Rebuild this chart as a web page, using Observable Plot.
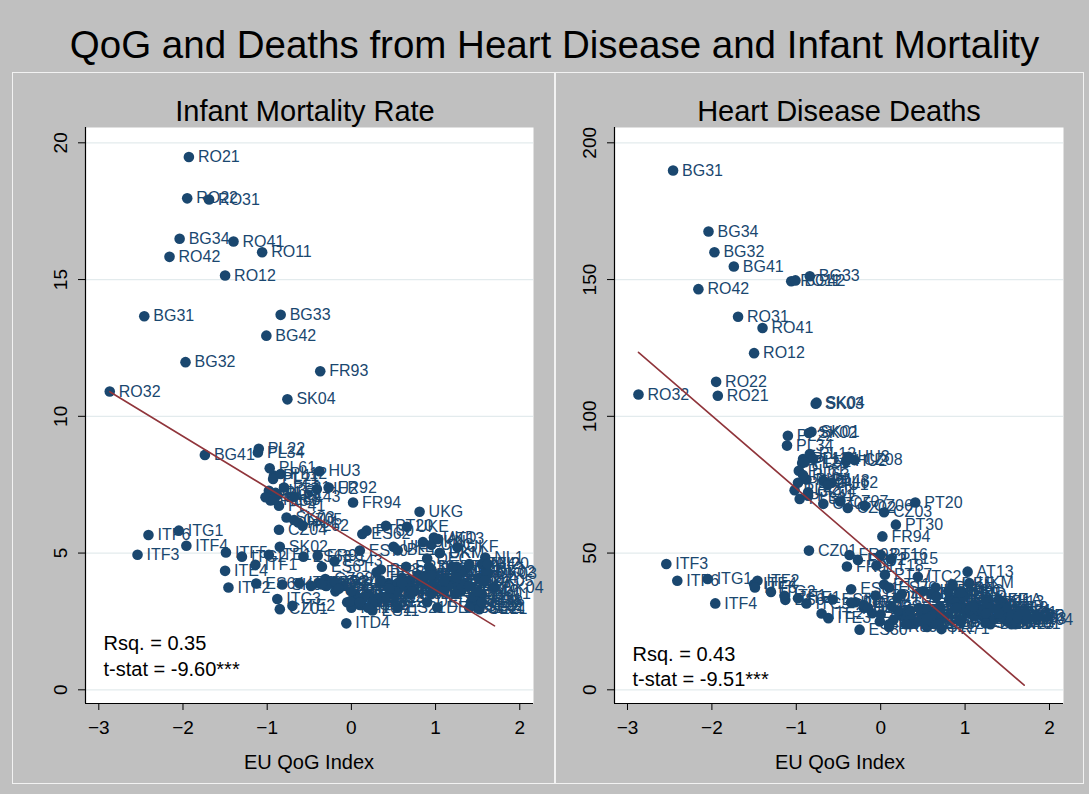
<!DOCTYPE html>
<html><head><meta charset="utf-8">
<script src="https://cdn.jsdelivr.net/npm/d3@7"></script>
<script src="https://cdn.jsdelivr.net/npm/@observablehq/plot@0.6"></script>
<style>
body{margin:0;background:#fff;}
#fig{position:relative;width:1089px;height:794px;background:#c0c0c0;font-family:"Liberation Sans",Arial,sans-serif;overflow:hidden;color:#000}
#title{position:absolute;left:10px;width:1089px;top:22px;text-align:center;font-size:38.5px;line-height:46px;white-space:nowrap}
.panel{position:absolute;top:72px;height:712px;border:1px solid #f2f2f2;box-sizing:border-box}
.sub{position:absolute;top:94px;width:400px;text-align:center;font-size:29px;line-height:34px;white-space:nowrap}
.xlab{position:absolute;top:750px;width:300px;text-align:center;font-size:20px;line-height:24px;white-space:nowrap}
.plot{position:absolute;top:120px}
.plot svg{overflow:visible}
</style></head>
<body>
<div id="fig">
  <div class="panel" style="left:12px;width:543px"></div>
  <div class="panel" style="left:555px;width:529px"></div>
  <div id="title"></div>
  <div class="sub" id="sub0" style="left:105px"></div>
  <div class="sub" id="sub1" style="left:639px"></div>
  <div class="plot" id="p0" style="left:12px"></div>
  <div class="plot" id="p1" style="left:556px"></div>
  <div class="xlab" id="xl0" style="left:159px"></div>
  <div class="xlab" id="xl1" style="left:690px"></div>
</div>
<script>
const titleText = "QoG and Deaths from Heart Disease and Infant Mortality";
const panelTitles = ["Infant Mortality Rate", "Heart Disease Deaths"];
const xLabel = "EU QoG Index";
const statsInfant = ["Rsq. = 0.35", "t-stat = -9.60***"];
const statsHeart = ["Rsq. = 0.43", "t-stat = -9.51***"];
const xTicks = [-3, -2, -1, 0, 1, 2];
const infantTicks = [0, 5, 10, 15, 20];
const heartTicks = [0, 50, 100, 150, 200];

// fitted regression line end points
const fitQog = [-2.87, 1.70];
const fitInfant = [10.9, 2.34];
const fitHeart = [123.4, 1.7];

const regions = [
 "RO11","RO12","RO21","RO22","RO31","RO32","RO41","RO42",
 "BG31","BG32","BG33","BG34","BG41","BG42",
 "SK01","SK02","SK03","SK04",
 "PL11","PL12","PL21","PL22","PL31","PL32","PL33","PL34","PL41","PL42","PL43","PL51","PL52","PL61","PL62","PL63",
 "HU1","HU2","HU3",
 "CZ01","CZ02","CZ03","CZ04","CZ05","CZ06","CZ07","CZ08",
 "FR91","FR92","FR93","FR94",
 "PT11","PT15","PT16","PT17","PT18","PT20","PT30",
 "ES11","ES12","ES13","ES21","ES22","ES23","ES24","ES30","ES41","ES42","ES43","ES51","ES52","ES53","ES61","ES62","ES63","ES64","ES70",
 "ITC1","ITC2","ITC3","ITC4","ITD1","ITD2","ITD3","ITD4","ITD5","ITE1","ITE2","ITE3","ITE4","ITF1","ITF2","ITF3","ITF4","ITF5","ITF6","ITG1","ITG2",
 "FR10","FR21","FR22","FR23","FR24","FR25","FR26","FR30","FR41","FR42","FR43","FR51","FR52","FR53","FR61","FR62","FR63","FR71","FR72","FR81","FR82","FR83",
 "UKC","UKD","UKE","UKF","UKG","UKH","UKI","UKJ","UKK","UKL","UKM","UKN",
 "DE1","DE2","DE3","DE4","DE5","DE6","DE7","DE8","DE9","DEA","DEB","DEC","DED","DEE","DEF","DEG",
 "AT11","AT12","AT13","AT21","AT22","AT31","AT32","AT33","AT34",
 "BE1","BE2","BE3",
 "NL1","NL2","NL3","NL4",
 "DK01","DK02","DK03","DK04","DK05",
 "SE11","SE12","SE21","SE22","SE23","SE31","SE32","SE33",
 "IE01","IE02","FI13","FI18","FI19","FI1A","FI20"
];
const qog = [
 -1.06,-1.50,-1.93,-1.95,-1.69,-2.87,-1.40,-2.16,
 -2.46,-1.97,-0.84,-2.04,-1.74,-1.01,
 -0.82,-0.85,-0.77,-0.76,
 -0.92,-0.84,-0.93,-1.10,-0.80,-0.98,-0.96,-1.11,-0.86,-1.02,-0.68,-0.88,-0.90,-0.97,-0.58,-0.92,
 -0.63,-0.41,-0.38,
 -0.85,-0.39,0.04,-0.86,-0.68,-0.19,-0.48,-0.31,
 -0.40,-0.27,-0.37,0.02,
 0.04,0.12,0.00,0.05,-0.05,0.41,0.18,
 0.25,0.30,-0.01,0.55,0.40,0.30,0.20,-0.25,0.15,-0.10,-0.20,0.10,0.00,0.35,-0.35,0.13,-0.57,-1.13,0.10,
 -0.30,0.44,-0.88,-0.20,0.25,0.20,-0.15,-0.06,-0.35,-0.98,-0.70,-0.62,-1.50,-1.14,-1.46,-2.54,-1.96,-1.49,-2.41,-2.05,-1.30,
 0.35,0.50,0.45,0.50,0.55,0.60,0.55,0.65,0.60,0.90,0.70,0.70,0.75,0.70,0.60,0.65,0.70,0.72,0.60,0.45,0.30,0.10,
 0.95,0.98,0.66,1.26,0.81,1.25,1.05,1.20,1.35,0.50,1.05,0.85,
 1.30,1.25,0.85,0.95,0.92,1.02,1.10,0.80,1.15,0.95,1.05,0.90,0.90,0.85,1.30,0.98,
 1.25,1.15,1.03,1.10,1.20,1.30,1.25,1.35,1.40,
 0.55,0.95,0.35,
 1.59,1.55,1.60,1.52,
 1.55,1.60,1.62,1.70,1.58,
 1.50,1.45,1.52,1.49,1.42,1.46,1.40,1.24,
 0.95,1.10,1.45,1.55,1.50,1.40,1.62
];
const infant = [
 16.00,15.15,19.48,17.97,17.93,10.91,16.39,15.83,
 13.66,11.98,13.71,16.49,8.59,12.95,
 3.85,5.23,6.30,10.62,
 7.83,7.89,7.71,8.81,7.40,7.28,6.92,8.68,6.73,7.04,7.06,7.12,7.20,8.10,6.00,6.95,
 6.12,7.34,7.99,
 2.95,3.90,3.50,5.85,6.21,3.60,3.80,4.05,
 4.90,7.40,11.65,6.85,
 3.30,3.10,3.00,3.45,3.20,6.00,5.82,
 2.90,3.20,3.25,3.00,3.40,3.35,3.50,3.90,3.40,3.80,4.70,3.10,3.60,3.90,4.50,5.70,4.87,3.89,5.09,
 3.80,3.90,3.32,3.95,3.20,3.00,3.70,2.43,3.85,4.94,3.07,3.90,4.35,4.57,3.74,4.94,5.27,5.02,5.66,5.82,4.87,
 4.00,3.60,3.80,3.50,3.90,4.10,3.60,4.50,3.90,4.20,3.50,3.50,3.60,4.00,3.80,3.90,3.70,3.60,3.90,3.70,4.30,3.20,
 5.30,5.57,5.96,5.21,6.51,4.30,5.00,3.90,4.40,5.23,5.00,5.40,
 3.60,3.90,4.00,3.50,4.50,3.01,3.80,4.20,4.00,4.40,3.70,4.80,3.20,4.10,4.30,4.20,
 4.50,3.80,5.51,4.00,4.50,3.70,4.10,3.90,4.60,
 5.10,3.80,4.40,
 4.84,4.60,4.40,4.10,
 3.50,4.30,4.25,3.74,4.00,
 3.00,3.10,2.95,3.07,3.20,3.30,3.00,3.50,
 4.20,3.60,3.40,3.20,3.60,3.80,4.60
];
const heart = [
 149.4,123.1,107.5,112.6,136.4,108.0,132.3,146.5,
 189.9,160.0,151.2,167.6,154.8,149.7,
 94.3,93.9,104.6,105.0,
 84.4,86.2,82.9,92.9,84.5,75.7,69.8,89.3,71.0,73.0,76.4,76.9,83.2,80.1,75.7,78.5,
 74.8,83.6,85.2,
 50.9,66.5,64.9,72.2,68.0,67.3,68.9,84.0,
 45.1,47.5,49.3,56.1,
 38.5,47.8,49.4,42.1,45.5,68.5,60.4,
 27.0,28.5,25.0,23.0,24.5,26.0,29.0,22.0,25.5,28.0,30.0,24.0,27.5,26.5,36.8,30.5,33.0,32.9,37.4,
 32.0,41.3,31.6,31.0,35.0,33.5,30.0,34.5,31.9,33.5,27.9,26.2,38.6,34.4,39.9,46.0,31.6,37.4,39.9,40.5,35.8,
 24.0,28.0,30.0,29.0,27.0,28.0,29.5,37.4,35.0,31.0,30.5,26.0,26.5,28.0,25.0,24.0,29.0,22.2,27.0,25.0,24.0,23.0,
 36.0,35.0,34.0,33.0,33.0,28.0,30.0,27.0,26.0,36.0,39.0,38.0,
 24.0,26.0,33.0,31.0,35.0,28.0,27.0,36.0,29.0,30.0,29.0,32.0,30.0,38.6,30.0,34.0,
 31.9,30.0,43.2,31.0,29.0,30.0,28.0,26.0,27.0,
 26.0,25.0,29.0,
 27.0,26.0,24.0,25.0,
 24.0,27.0,26.0,25.5,27.0,
 25.0,27.0,28.0,26.0,26.5,29.0,28.0,24.3,
 35.5,30.5,32.0,27.5,30.0,33.0,26.5
];

const rows = regions.map((r, i) => ({region: r, qog: qog[i], infant: infant[i], heart: heart[i]}));

const NAVY = "#1a476f", MAROON = "#90353b", GRID = "#e3ebed";
const FONT = "'Liberation Sans', Arial, sans-serif";

function panel({yKey, yTicks, yDomain, xDomain, fitY, stats, width, marginLeft, marginRight, statsDy}) {
  const fit = fitQog.map((x, i) => ({qog: x, y: fitY[i]}));
  return Plot.plot({
    width, height: 660,
    marginLeft, marginRight, marginTop: 7, marginBottom: 77,
    style: {background: "transparent", fontFamily: FONT, overflow: "visible"},
    x: {domain: xDomain},
    y: {domain: yDomain},
    marks: [
      Plot.frame({fill: "white", stroke: "none"}),
      Plot.gridY(yTicks, {stroke: GRID, strokeOpacity: 1, strokeWidth: 1.2}),
      Plot.ruleX([xDomain[0]], {stroke: "#000", strokeWidth: 1.2}),
      Plot.ruleY([yDomain[0]], {stroke: "#000", strokeWidth: 1.2}),
      Plot.axisX(xTicks, {tickSize: 7, tickPadding: 10, fontSize: 19, label: null, stroke: "#000"}),
      Plot.axisY(yTicks, {tickSize: 7, tickRotate: -90, tickPadding: 12, fontSize: 19, label: null, stroke: "#000"}),
      Plot.dot(rows, {x: "qog", y: yKey, r: 5.3, fill: NAVY, stroke: "none"}),
      Plot.text(rows, {x: "qog", y: yKey, text: "region", dx: 9, textAnchor: "start", fill: NAVY, fontSize: 16}),
      Plot.line(fit, {x: "qog", y: "y", stroke: MAROON, strokeWidth: 1.6}),
      Plot.text([stats[0]], {frameAnchor: "bottom-left", text: d => d, dx: 18, dy: statsDy[0], textAnchor: "start", fontSize: 20, fill: "#000"}),
      Plot.text([stats[1]], {frameAnchor: "bottom-left", text: d => d, dx: 18, dy: statsDy[1], textAnchor: "start", fontSize: 20, fill: "#000"})
    ]
  });
}

document.getElementById("title").textContent = titleText;
document.getElementById("sub0").textContent = panelTitles[0];
document.getElementById("sub1").textContent = panelTitles[1];
document.getElementById("xl0").textContent = xLabel;
document.getElementById("xl1").textContent = xLabel;

document.getElementById("p0").append(panel({
  yKey: "infant", yTicks: infantTicks, yDomain: [-0.5, 20.56], xDomain: [-3.158, 2.163],
  fitY: fitInfant, stats: statsInfant, width: 542, marginLeft: 73, marginRight: 21, statsDy: [-54, -28]
}));
document.getElementById("p1").append(panel({
  yKey: "heart", yTicks: heartTicks, yDomain: [-5, 205.6], xDomain: [-3.154, 2.166],
  fitY: fitHeart, stats: statsHeart, width: 527, marginLeft: 58, marginRight: 20, statsDy: [-43, -18]
}));
</script>
</body></html>
